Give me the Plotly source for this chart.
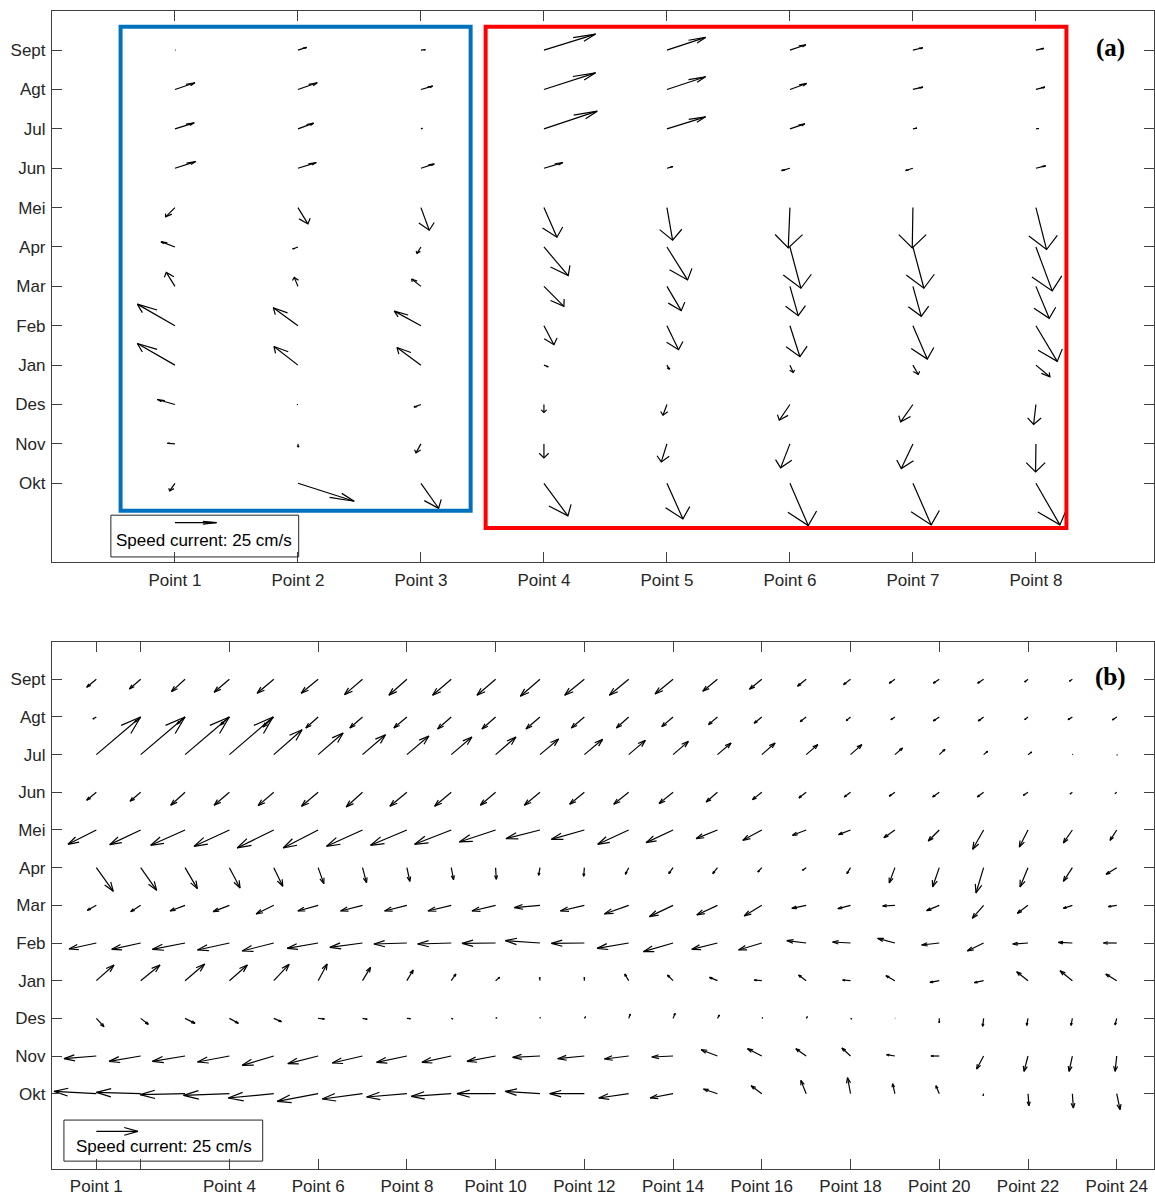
import plotly.graph_objects as go

# ---------------- data ----------------
MONTHS_TOP_DOWN = ["Sept", "Agt", "Jul", "Jun", "Mei", "Apr", "Mar", "Feb", "Jan", "Des", "Nov", "Okt"]
POINTS_A = [f"Point {i}" for i in range(1, 9)]
TICKS_B = [1, 2] + list(range(4, 25, 2))
TICKTEXT_B = ["Point 1", ""] + [f"Point {i}" for i in range(4, 25, 2)]
REF_SPEED = 25  # cm/s
REF_LABEL = "Speed current: 25 cm/s"

# panel (a): eastward (U) / northward (V) current, cm/s ; rows Sept..Okt, columns Point 1..8
U_A = [
    [0.3, 5.2, 2.7, 31.0, 23.2, 9.6, 6.0, 4.8],
    [12.0, 11.6, 7.0, 31.0, 23.2, 10.0, 6.0, 5.4],
    [11.6, 9.4, 0.9, 32.0, 23.2, 9.0, 2.4, 1.8],
    [12.4, 11.0, 8.0, 11.4, 3.6, -5.0, -4.4, 5.8],
    [-5.6, 6.0, 5.0, 7.8, 3.4, -1.0, -0.4, 6.4],
    [-8.4, -3.2, -2.4, 14.6, 12.4, 6.6, 6.6, 9.8],
    [-5.2, -2.2, -5.6, 12.0, 8.6, 5.0, 5.0, 8.0],
    [-22.6, -14.8, -16.0, 6.0, 7.0, 6.0, 8.6, 12.8],
    [-22.6, -14.4, -14.4, 2.6, 1.4, 2.0, 3.2, 8.4],
    [-10.6, -0.6, -4.2, 0.0, -2.4, -6.4, -7.4, -1.4],
    [-4.6, 0.2, -3.0, 0.0, -3.4, -5.6, -7.0, -0.2],
    [-3.2, 33.8, 10.6, 14.4, 9.6, 11.0, 11.0, 14.4],
]
V_A = [
    [0.0, 1.6, 0.3, 9.6, 7.6, 3.2, 1.4, 1.0],
    [4.0, 4.0, 2.0, 10.0, 7.6, 3.6, 1.4, 1.4],
    [3.6, 3.4, 0.3, 10.6, 7.2, 3.0, 0.4, 0.2],
    [4.0, 3.4, 2.6, 3.4, 1.0, -1.4, -1.4, 1.4],
    [-5.6, -9.8, -13.6, -17.8, -19.6, -24.2, -24.2, -25.2],
    [3.2, -1.2, -3.8, -17.2, -19.8, -24.8, -24.8, -26.4],
    [8.4, 5.4, 4.4, -12.0, -14.6, -17.6, -18.0, -19.2],
    [13.0, 10.8, 8.8, -11.4, -14.4, -18.6, -20.0, -21.4],
    [13.0, 11.2, 10.6, -1.0, -2.4, -4.4, -5.6, -7.0],
    [3.0, 0.0, -1.6, -4.8, -6.4, -9.4, -10.4, -12.0],
    [0.4, -1.8, -5.4, -8.4, -10.8, -14.4, -14.8, -16.8],
    [-4.6, -10.8, -15.0, -19.6, -21.4, -25.4, -25.0, -25.0],
]

# panel (b): rows Sept..Okt, columns Point 1..24
U_B = [
    [-5.8, -6.8, -8.2, -9.2, -10.0, -10.2, -10.8, -10.8, -11.2, -11.2, -11.8, -11.8, -11.6, -10.8, -8.8, -7.4, -5.2, -4.2, -3.4, -3.6, -3.6, -2.0, -1.8, -1.5],
    [-2.1, -3.6, -4.8, -5.4, -6.6, -7.4, -7.6, -7.8, -8.2, -8.2, -8.4, -7.8, -7.4, -6.8, -5.4, -4.6, -3.6, -2.6, -2.4, -3.6, -3.2, -2.0, -2.6, -2.6],
    [26.6, 26.6, 26.6, 26.2, 17.0, 15.0, 13.8, 13.2, 12.4, 12.2, 11.2, 11.0, 10.0, 9.2, 8.2, 8.0, 7.0, 6.8, 4.6, 3.4, 2.4, 2.2, 0.3, 0.3],
    [-5.8, -6.4, -8.6, -9.2, -9.4, -10.0, -9.8, -10.2, -10.0, -9.2, -9.4, -8.8, -9.0, -8.4, -6.8, -5.6, -4.4, -3.8, -3.4, -4.0, -3.8, -2.8, -1.4, -1.0],
    [-17.0, -18.6, -20.6, -21.2, -22.0, -21.0, -21.6, -21.8, -22.0, -21.8, -20.4, -19.8, -18.6, -16.2, -12.8, -11.4, -8.2, -7.2, -6.6, -6.6, -6.6, -5.2, -5.4, -4.0],
    [10.2, 9.6, 7.4, 6.4, 5.4, 3.4, 2.4, 1.8, 1.4, 0.4, -0.8, -0.4, -2.0, -2.6, -2.8, -2.4, -2.2, -2.2, -3.4, -4.0, -4.6, -4.8, -5.4, -6.4],
    [-5.4, -6.0, -9.0, -9.8, -10.6, -12.2, -13.2, -13.4, -14.0, -14.2, -15.4, -14.4, -14.6, -14.2, -12.4, -10.6, -8.6, -7.6, -7.4, -7.6, -6.8, -6.4, -5.4, -5.0],
    [-16.4, -17.4, -19.6, -19.2, -19.0, -18.6, -19.6, -19.8, -20.2, -20.2, -20.8, -19.8, -19.0, -17.8, -15.4, -14.0, -11.6, -10.8, -10.4, -10.6, -9.8, -9.2, -8.4, -8.0],
    [10.6, 11.6, 11.8, 10.8, 9.2, 5.4, 4.8, 3.8, 2.8, 2.4, -0.2, 0.0, -2.4, -3.4, -4.8, -4.6, -4.6, -4.8, -5.4, -5.6, -5.6, -6.8, -7.4, -6.6],
    [4.6, 4.6, 6.0, 5.4, 4.6, 3.8, 2.8, 2.2, 1.0, 0.8, 0.2, 0.8, 1.0, 1.2, 1.2, 0.6, 0.8, 0.8, 0.2, 0.0, -0.6, -0.8, -0.8, -1.0],
    [-19.4, -19.0, -19.6, -19.2, -19.0, -18.2, -18.2, -18.2, -17.6, -17.2, -16.4, -16.0, -14.6, -12.8, -9.8, -8.6, -6.2, -5.2, -5.0, -5.0, -4.2, -2.4, -2.0, -1.0],
    [-25.4, -26.6, -27.0, -27.6, -27.4, -24.6, -24.2, -24.2, -24.0, -23.2, -20.8, -20.8, -18.0, -13.8, -8.4, -6.4, -3.2, -1.8, -1.4, -2.0, -0.3, 0.6, 0.6, 2.0],
]
V_B = [
    [-4.8, -5.8, -7.4, -7.8, -8.4, -8.4, -9.2, -9.6, -9.6, -9.6, -10.2, -9.6, -9.6, -8.8, -7.2, -6.0, -4.2, -3.2, -2.4, -2.4, -2.4, -1.6, -1.2, -1.2],
    [-1.2, -3.0, -4.2, -4.8, -6.0, -6.6, -6.6, -6.6, -7.2, -7.2, -7.2, -6.6, -6.6, -5.8, -4.6, -3.8, -2.8, -2.2, -1.6, -2.4, -2.4, -1.6, -1.6, -1.8],
    [22.6, 22.6, 22.6, 22.6, 15.0, 13.0, 12.0, 11.2, 10.6, 10.6, 9.4, 9.2, 8.6, 8.0, 7.0, 7.0, 6.0, 6.0, 4.0, 3.2, 2.0, 1.6, 0.2, -0.3],
    [-4.8, -5.4, -7.8, -7.8, -8.0, -8.4, -8.8, -8.4, -8.4, -7.8, -7.8, -7.2, -7.2, -6.8, -5.8, -4.4, -3.4, -2.8, -2.4, -2.8, -2.8, -1.8, -1.0, -0.8],
    [-8.6, -8.8, -9.2, -9.8, -10.8, -10.8, -9.8, -9.2, -8.6, -7.2, -5.2, -5.6, -8.6, -7.6, -5.2, -6.2, -3.2, -2.8, -4.6, -6.6, -11.6, -10.2, -7.8, -6.2],
    [-14.2, -13.6, -12.6, -12.2, -11.2, -9.6, -9.0, -8.2, -7.2, -7.0, -4.6, -5.2, -4.0, -3.6, -3.6, -2.6, -1.6, -3.6, -9.2, -11.6, -15.2, -11.6, -8.2, -4.0],
    [-3.0, -3.8, -3.4, -3.8, -5.2, -3.4, -3.4, -3.4, -3.4, -3.4, -1.4, -3.4, -5.2, -6.8, -5.8, -6.4, -1.8, -2.0, -0.4, -3.2, -7.8, -4.8, -1.8, -0.8],
    [-3.6, -3.8, -3.8, -4.2, -4.8, -3.2, -2.6, -0.6, -0.6, -0.2, 1.4, -0.2, -3.2, -5.2, -3.8, -4.2, 1.4, 0.6, 2.8, -1.2, -4.8, -0.6, 0.4, 0.0],
    [9.4, 9.4, 10.0, 9.4, 9.8, 10.0, 8.0, 6.4, 4.0, 2.0, 2.0, 2.0, 4.0, 3.4, 2.0, 0.4, 3.4, 0.4, 3.0, -1.0, -1.2, 5.4, 6.0, 4.0],
    [-5.0, -3.6, -3.0, -3.0, -2.0, -0.4, -0.6, -0.2, -0.4, 0.4, 0.6, 1.0, 2.6, 3.0, 2.0, 0.4, 1.0, -0.4, 0.0, -2.6, -4.8, -4.2, -4.2, -4.0],
    [-1.6, -3.2, -3.2, -3.6, -5.6, -4.6, -4.2, -3.8, -3.8, -3.2, -0.8, -1.6, -1.8, -0.6, 3.8, 4.4, 4.4, 4.8, 0.8, 0.0, -7.8, -9.2, -9.2, -9.2],
    [1.4, 0.8, -0.6, -1.0, -2.6, -4.6, -3.2, -2.0, -1.6, 0.0, 1.4, 0.0, -2.6, -2.6, 2.8, 4.8, 8.0, 9.6, 6.0, 4.8, -1.2, -7.2, -8.6, -9.6],
]

# ---------------- layout geometry ----------------
W, H = 1155, 1196
XDOM = [52 / W, 1.0]
YDOM_A = [(H - 563) / H, (H - 10.7) / H]
YDOM_B = [(H - 1171) / H, (H - 642.7) / H]
XR_A = [0, 8.96]
XR_B = [0, 24.84]
YR = [-1, 13]
PX_PER_CMS = 5 / 3  # arrow length in screen pixels per cm/s

FONT = "Liberation Sans, Arial, sans-serif"
TXT = "#262626"
AXC = "#404040"


def px_scale(xr, ydom):
    pxx = W * (XDOM[1] - XDOM[0]) / (xr[1] - xr[0])
    pxy = H * (ydom[1] - ydom[0]) / (YR[1] - YR[0])
    return pxx, pxy


def quiver_xy(xs, ys, us, vs, pxx, pxy, alpha=0.33, beta=0.33):
    lx, ly = [], []
    for x, y, u, v in zip(xs, ys, us, vs):
        ud = u * PX_PER_CMS / pxx
        vd = v * PX_PER_CMS / pxy
        lx += [x, x + ud, None]
        ly += [y, y + vd, None]
        lx += [x + ud - alpha * (ud + beta * vd), x + ud, x + ud - alpha * (ud - beta * vd), None]
        ly += [y + vd - alpha * (vd - beta * ud), y + vd, y + vd - alpha * (vd + beta * ud), None]
    return lx, ly


def grid(U, V):
    xs, ys, us, vs = [], [], [], []
    n = len(MONTHS_TOP_DOWN)
    for i in range(n):
        for j in range(len(U[i])):
            xs.append(j + 1)
            ys.append(n - i)
            us.append(U[i][j])
            vs.append(V[i][j])
    return xs, ys, us, vs


fig = go.Figure()

for (U, V, xr, ydom, xa, ya) in [(U_A, V_A, XR_A, YDOM_A, "x", "y"), (U_B, V_B, XR_B, YDOM_B, "x2", "y2")]:
    pxx, pxy = px_scale(xr, ydom)
    xs, ys, us, vs = grid(U, V)
    # reference arrow
    xs.append(1); ys.append(0); us.append(REF_SPEED); vs.append(0)
    lx, ly = quiver_xy(xs, ys, us, vs, pxx, pxy)
    fig.add_trace(go.Scatter(x=lx, y=ly, mode="lines", xaxis=xa, yaxis=ya,
                             line=dict(color="black", width=1.2), hoverinfo="skip",
                             showlegend=False))

month_ticks = list(range(1, 13))
month_text = MONTHS_TOP_DOWN[::-1]

common_x = dict(showgrid=False, zeroline=False, showline=True, linecolor=AXC, linewidth=1,
                mirror="ticks", ticks="inside", ticklen=10, tickcolor=AXC,
                tickfont=dict(family=FONT, size=17, color=TXT), fixedrange=True)
common_y = dict(showgrid=False, zeroline=False, showline=True, linecolor=AXC, linewidth=1,
                mirror="ticks", ticks="inside", ticklen=10, tickcolor=AXC, range=YR,
                tickvals=month_ticks, ticktext=month_text, ticklabelstandoff=2,
                tickfont=dict(family=FONT, size=17, color=TXT), fixedrange=True)

fig.update_layout(
    width=W, height=H, margin=dict(l=0, r=0, t=0, b=0),
    paper_bgcolor="white", plot_bgcolor="white", showlegend=False,
    xaxis=dict(domain=XDOM, range=XR_A, anchor="y", tickvals=list(range(1, 9)), ticktext=POINTS_A,
               ticklabelstandoff=3, **common_x),
    yaxis=dict(domain=YDOM_A, anchor="x", **common_y),
    xaxis2=dict(domain=XDOM, range=XR_B, anchor="y2", tickvals=TICKS_B, ticktext=TICKTEXT_B,
                ticklabelstandoff=2, **common_x),
    yaxis2=dict(domain=YDOM_B, anchor="x2", **common_y),
)

# highlighted groups in panel (a)
BLUE_BOX = dict(x0=0.558, x1=3.404, y0=0.30, y1=12.59)
RED_BOX = dict(x0=3.526, x1=8.248, y0=-0.138, y1=12.59)
fig.add_shape(type="rect", xref="x", yref="y", line=dict(color="#0072BD", width=4), **BLUE_BOX)
fig.add_shape(type="rect", xref="x", yref="y", line=dict(color="#FF0000", width=4), **RED_BOX)

# reference-arrow boxes
fig.add_shape(type="rect", xref="x", yref="y", x0=0.479, x1=2.006, y0=-0.87, y1=0.19,
              line=dict(color=TXT, width=1), fillcolor="white", layer="below")
fig.add_shape(type="rect", xref="x2", yref="y2", x0=0.27, x1=4.75, y0=-0.79, y1=0.30,
              line=dict(color=TXT, width=1), fillcolor="white", layer="below")
fig.add_annotation(xref="x", yref="y", x=1.235, y=-0.44, text=REF_LABEL, showarrow=False,
                   font=dict(family=FONT, size=17, color="black"))
fig.add_annotation(xref="x2", yref="y2", x=2.52, y=-0.39, text=REF_LABEL, showarrow=False,
                   font=dict(family=FONT, size=17, color="black"))

# panel letters
fig.add_annotation(xref="x", yref="y", x=8.61, y=12.05, text="<b>(a)</b>", showarrow=False,
                   font=dict(family="Liberation Serif, serif", size=25, color="black"))
fig.add_annotation(xref="x2", yref="y2", x=23.85, y=12.05, text="<b>(b)</b>", showarrow=False,
                   font=dict(family="Liberation Serif, serif", size=25, color="black"))

fig.write_html("out.html")
